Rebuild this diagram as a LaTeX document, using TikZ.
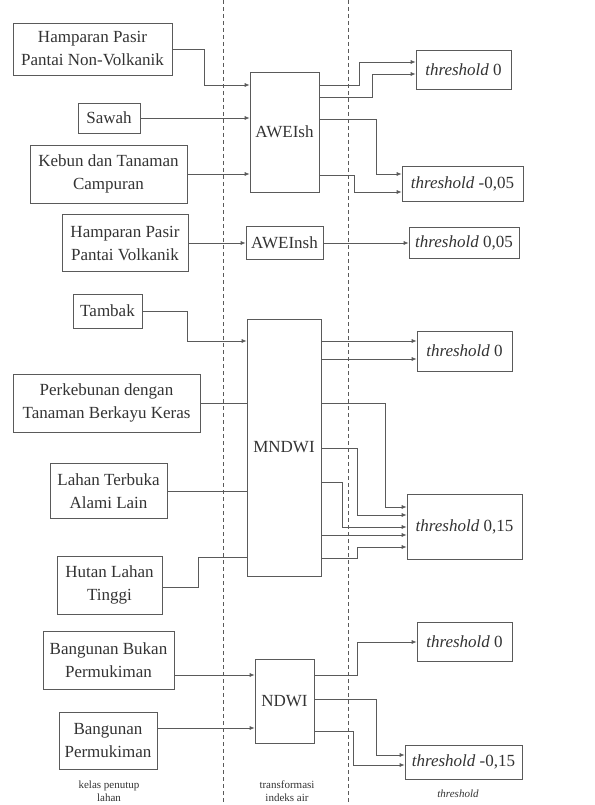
\documentclass[tikz,border=0pt]{standalone}
\usepackage{fontspec}
\setmainfont{Liberation Serif}
\usepackage{tikz}
\usetikzlibrary{arrows.meta}
\definecolor{ink}{HTML}{333333}
\definecolor{wire}{HTML}{5A5A5A}

\begin{document}
\begin{tikzpicture}[x=1pt, y=-1pt,
	box/.style={draw=wire, line width=0.7pt, align=center, inner sep=0pt, text=ink, font=\fontsize{17}{23}\selectfont},
	arr/.style={draw=wire, line width=0.7pt, -{Latex[length=5pt, width=4pt]}},
	wire/.style={draw=wire, line width=0.7pt},
	divider/.style={draw=wire, line width=0.5pt, dash pattern=on 4pt off 3pt},
	caption/.style={align=center, text=ink, font=\fontsize{11}{13.5}\selectfont}]
	  \useasboundingbox (0,0) rectangle (594,805);
	  \draw [divider] (223.5,0) -- (223.5,805);
	  \draw [divider] (348,0) -- (348,805);
	  \node [box, minimum width=159, minimum height=52] (nonvolk) at (92.5, 49) {Hamparan Pasir\\Pantai Non-Volkanik};
	  \node [box, minimum width=62, minimum height=30] (sawah) at (109, 118) {Sawah};
	  \node [box, minimum width=157, minimum height=58] (kebun) at (108.5, 174) {Kebun dan Tanaman\\Campuran};
	  \node [box, minimum width=126, minimum height=57] (volk) at (125, 243) {Hamparan Pasir\\Pantai Volkanik};
	  \node [box, minimum width=69, minimum height=120] (awei) at (284.5, 132) {AWEIsh};
	  \node [box, minimum width=77, minimum height=33] (aweins) at (284.5, 243) {AWEInsh};
	  \node [box, minimum width=95, minimum height=39] (thA0) at (463.5, 69.5) {\textit{threshold} 0};
	  \node [box, minimum width=121, minimum height=35] (thA005n) at (462.5, 183.5) {\textit{threshold} -0,05};
	  \node [box, minimum width=110, minimum height=31] (thA005) at (464, 243) {\textit{threshold} 0,05};
	  \node [box, minimum width=69, minimum height=34] (tambak) at (107.5, 311) {Tambak};
	  \node [box, minimum width=187, minimum height=58] (perkeb) at (106.5, 403) {Perkebunan dengan\\Tanaman Berkayu Keras};
	  \node [box, minimum width=117, minimum height=55] (lahan) at (108.5, 491) {Lahan Terbuka\\Alami Lain};
	  \node [box, minimum width=105, minimum height=58] (hutan) at (109.5, 585) {Hutan Lahan\\Tinggi};
	  \node [box, minimum width=74, minimum height=257] (mndwi) at (284, 447.5) {MNDWI};
	  \node [box, minimum width=95, minimum height=40] (thM0) at (464.5, 351) {\textit{threshold} 0};
	  \node [box, minimum width=115, minimum height=65] (thM015) at (464.5, 526.5) {\textit{threshold} 0,15};
	  \node [box, minimum width=131, minimum height=58] (bukan) at (108.5, 660) {Bangunan Bukan\\Permukiman};
	  \node [box, minimum width=98, minimum height=57] (permuk) at (108, 740.5) {Bangunan\\Permukiman};
	  \node [box, minimum width=59, minimum height=84] (ndwi) at (284.5, 701) {NDWI};
	  \node [box, minimum width=95, minimum height=39] (thN0) at (464.5, 641.5) {\textit{threshold} 0};
	  \node [box, minimum width=117, minimum height=34] (thN015) at (463.5, 762) {\textit{threshold} -0,15};
	  \draw [arr] (nonvolk.east) -| (204, 85) -- (awei.west |- 0,85);
	  \draw [arr] (sawah) -- (awei.west |- sawah);
	  \draw [arr] (kebun) -- (awei.west |- kebun);
	  \draw [arr] (awei.east |- 0,85) -| (359, 62) -- (thA0.west |- 0,62);
	  \draw [arr] (awei.east |- 0,97) -| (372, 74) -- (thA0.west |- 0,74);
	  \draw [arr] (awei.east |- 0,119) -| (376, 174) -- (thA005n.west |- 0,174);
	  \draw [arr] (awei.east |- 0,175) -| (354, 192) -- (thA005n.west |- 0,192);
	  \draw [arr] (volk) -- (aweins);
	  \draw [arr] (aweins) -- (thA005);
	  \draw [arr] (tambak) -| (187, 341) -- (mndwi.west |- 0,341);
	  \draw [wire] (perkeb) -- (mndwi.west |- perkeb);
	  \draw [wire] (lahan) -- (mndwi.west |- lahan);
	  \draw [wire] (hutan.east |- 0,587) -| (198, 557) -- (mndwi.west |- 0,557);
	  \draw [arr] (mndwi.east |- 0,341) -- (thM0.west |- 0,341);
	  \draw [arr] (mndwi.east |- 0,359) -- (thM0.west |- 0,359);
	  \draw [arr] (mndwi.east |- 0,403) -| (385, 507) -- (thM015.west |- 0,507);
	  \draw [arr] (mndwi.east |- 0,448) -| (357, 515) -- (thM015.west |- 0,515);
	  \draw [arr] (mndwi.east |- 0,482) -| (342, 527) -- (thM015.west |- 0,527);
	  \draw [arr] (mndwi.east |- 0,535) -- (thM015.west |- 0,535);
	  \draw [arr] (mndwi.east |- 0,558) -| (357, 547) -- (thM015.west |- 0,547);
	  \draw [arr] (bukan.east |- 0,675) -- (ndwi.west |- 0,675);
	  \draw [arr] (permuk.east |- 0,728) -- (ndwi.west |- 0,728);
	  \draw [arr] (ndwi.east |- 0,675) -| (357, 642) -- (thN0.west |- 0,642);
	  \draw [arr] (ndwi.east |- 0,699) -| (376, 755) -- (thN015.west |- 0,755);
	  \draw [arr] (ndwi.east |- 0,731) -| (353, 765) -- (thN015.west |- 0,765);
	  \node [caption, anchor=north] (capclass) at (109, 777) {kelas penutup\\lahan};
	  \node [caption, anchor=north] (capindex) at (287, 777) {transformasi\\indeks air};
	  \node [caption, anchor=north] (capthr) at (458, 786) {\textit{threshold}};
	 \end{tikzpicture}
\end{document}
